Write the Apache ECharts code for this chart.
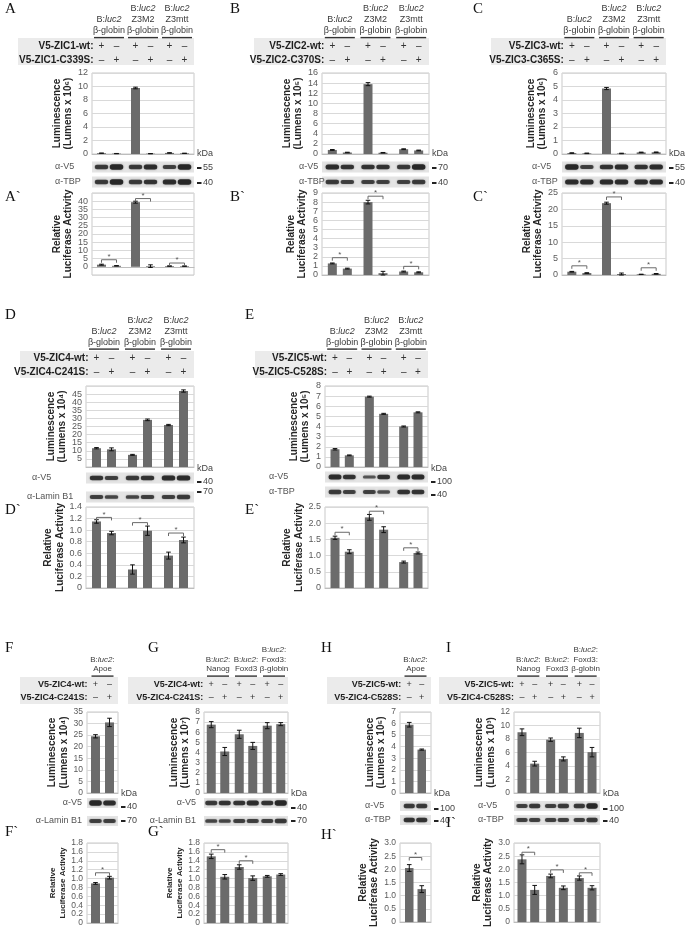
<!DOCTYPE html>
<html><head><meta charset="utf-8">
<script src="https://cdn.jsdelivr.net/npm/echarts@6/dist/echarts.min.js"></script>
<style>html,body{margin:0;padding:0;background:#fff}#c{width:685px;height:929px}</style>
</head><body><div id="c"></div>
<script>
// ================= DATA =================
const ABC_groups = ['B:luc2\nβ-globin', 'B:luc2\nZ3M2\nβ-globin', 'B:luc2\nZ3mtt\nβ-globin'];
const GI_groups = ['B:luc2:\nNanog', 'B:luc2:\nFoxd3', 'B:luc2:\nFoxd3:\nβ-globin'];
const FH_groups = ['B:luc2:\nApoe'];

// Panel A / A`
const A_rows = ['V5-ZIC1-wt:', 'V5-ZIC1-C339S:'];
const A_lum = [0.12, 0.06, 9.78, 0.05, 0.16, 0.1];
const A_lumErr = [0.02, 0.02, 0.12, 0.02, 0.03, 0.02];
const A_rel = [1.3, 0.6, 39.4, 0.4, 0.45, 0.4];
const A_relErr = [0.3, 0.15, 0.6, 0.8, 0.1, 0.1];
const A_sig = [4.3, 41.6, 2.3];
const A_lumTicks = [0, 12, 2];
const A_relTicks = [-5, 45, 5];
const A_unit = '(Lumens x 10⁶)';
const A_blotNames = ['α-V5', 'α-TBP'];
const A_kda = ['55', '40'];
const A_blotV5 = [0.7, 1, 0.7, 0.9, 0.6, 1];
const A_blotTBP = [0.7, 1, 0.7, 0.8, 0.9, 1];

// Panel B / B`
const B_rows = ['V5-ZIC2-wt:', 'V5-ZIC2-C370S:'];
const B_lum = [0.8, 0.3, 13.8, 0.25, 0.95, 0.7];
const B_lumErr = [0.08, 0.05, 0.3, 0.05, 0.08, 0.07];
const B_rel = [1.27, 0.7, 8.0, 0.2, 0.38, 0.3];
const B_relErr = [0.05, 0.05, 0.2, 0.2, 0.05, 0.05];
const B_sig = [1.9, 8.65, 0.95];
const B_lumTicks = [0, 16, 2];
const B_relTicks = [0, 9, 1];
const B_unit = '(Lumens x 10⁵)';
const B_blotNames = ['α-V5', 'α-TBP'];
const B_kda = ['70', '40'];
const B_blotV5 = [0.9, 0.8, 0.8, 0.8, 0.7, 1];
const B_blotTBP = [0.7, 0.6, 0.6, 0.6, 0.6, 0.7];

// Panel C / C`
const C_rows = ['V5-ZIC3-wt:', 'V5-ZIC3-C365S:'];
const C_lum = [0.07, 0.05, 4.85, 0.04, 0.12, 0.13];
const C_lumErr = [0.02, 0.02, 0.08, 0.02, 0.02, 0.02];
const C_rel = [1.0, 0.6, 21.9, 0.3, 0.2, 0.35];
const C_relErr = [0.1, 0.1, 0.3, 0.3, 0.05, 0.1];
const C_sig = [2.8, 23.8, 2.2];
const C_lumTicks = [0, 6, 1];
const C_relTicks = [0, 25, 5];
const C_unit = '(Lumens x 10⁶)';
const C_blotNames = ['α-V5', 'α-TBP'];
const C_kda = ['55', '40'];
const C_blotV5 = [1, 0.6, 0.8, 0.9, 0.8, 0.9];
const C_blotTBP = [0.9, 0.9, 0.9, 0.9, 0.9, 0.9];

// Panel D / D`
const D_rows = ['V5-ZIC4-wt:', 'V5-ZIC4-C241S:'];
const D_lum = [11.6, 10.9, 7.5, 29.1, 25.9, 46.9];
const D_lumErr = [0.4, 0.9, 0.3, 0.5, 0.4, 0.7];
const D_rel = [1.15, 0.95, 0.32, 0.99, 0.56, 0.83];
const D_relErr = [0.03, 0.03, 0.08, 0.08, 0.06, 0.05];
const D_sig = [1.22, 1.13, 0.95];
const D_lumTicks = [0, 50, 5];
const D_relTicks = [0, 1.4, 0.2];
const D_unit = '(Lumens x 10⁴)';
const D_blotNames = ['α-V5', 'α-Lamin B1'];
const D_kda = ['40', '70'];
const D_blotV5 = [0.8, 0.6, 0.7, 0.8, 0.9, 0.9];
const D_blotLamin = [0.6, 0.5, 0.5, 0.6, 0.6, 0.7];

// Panel E / E`
const E_rows = ['V5-ZIC5-wt:', 'V5-ZIC5-C528S:'];
const E_lum = [1.75, 1.15, 6.95, 5.25, 4.0, 5.4];
const E_lumErr = [0.07, 0.04, 0.05, 0.05, 0.05, 0.05];
const E_rel = [1.55, 1.12, 2.18, 1.8, 0.8, 1.08];
const E_relErr = [0.05, 0.06, 0.09, 0.09, 0.03, 0.03];
const E_sig = [1.72, 2.37, 1.24];
const E_lumTicks = [0, 8, 1];
const E_relTicks = [0, 2.5, 0.5];
const E_unit = '(Lumens x 10⁵)';
const E_blotNames = ['α-V5', 'α-TBP'];
const E_kda = ['100', '40'];
const E_blotV5 = [0.9, 0.8, 0.3, 0.8, 0.9, 0.9];
const E_blotTBP = [0.7, 0.6, 0.6, 0.4, 0.8, 0.8];

// Panel F / F`
const F_rows = ['V5-ZIC4-wt:', 'V5-ZIC4-C241S:'];
const F_lum = [24.5, 30.5];
const F_lumErr = [0.7, 1.8];
const F_rel = [0.89, 1.02];
const F_relErr = [0.02, 0.03];
const F_sig = [1.13];
const F_lumTicks = [0, 35, 5];
const F_relTicks = [0, 1.8, 0.2];
const F_unit = '(Lumens x 10⁴)';
const F_blotNames = ['α-V5', 'α-Lamin B1'];
const F_kda = ['40', '70'];
const F_blotV5 = [1, 0.9];
const F_blotLamin = [0.6, 0.6];

// Panel G / G`
const G_rows = ['V5-ZIC4-wt:', 'V5-ZIC4-C241S:'];
const G_lum = [6.75, 4.1, 5.8, 4.65, 6.65, 6.8];
const G_lumErr = [0.3, 0.4, 0.4, 0.35, 0.3, 0.15];
const G_rel = [1.5, 1.04, 1.26, 1.01, 1.05, 1.09];
const G_relErr = [0.05, 0.05, 0.05, 0.05, 0.02, 0.02];
const G_sig = [1.65, 1.4, null];
const G_lumTicks = [0, 8, 1];
const G_relTicks = [0, 1.8, 0.2];
const G_unit = '(Lumens x 10⁷)';
const G_blotNames = ['α-V5', 'α-Lamin B1'];
const G_kda = ['40', '70'];
const G_blotV5 = [0.7, 0.8, 0.8, 0.9, 0.8, 1];
const G_blotLamin = [0.5, 0.5, 0.6, 0.6, 0.6, 0.7];

// Panel H / H`
const H_rows = ['V5-ZIC5-wt:', 'V5-ZIC4-C528S:'];
const H_lum = [5.9, 3.75];
const H_lumErr = [0.2, 0.05];
const H_rel = [2.05, 1.25];
const H_relErr = [0.13, 0.13];
const H_sig = [2.45];
const H_lumTicks = [0, 7, 1];
const H_relTicks = [0, 3, 0.5];
const H_unit = '(Lumens x 10⁵)';
const H_blotNames = ['α-V5', 'α-TBP'];
const H_kda = ['100', '40'];
const H_blotV5 = [0.7, 0.7];
const H_blotTBP = [0.8, 0.8];

// Panel I / I`
const I_rows = ['V5-ZIC5-wt:', 'V5-ZIC4-C528S:'];
const I_lum = [9.0, 4.35, 7.9, 5.05, 8.9, 6.05];
const I_lumErr = [0.5, 0.35, 0.25, 0.3, 0.7, 0.7];
const I_rel = [2.38, 1.22, 1.75, 1.3, 1.67, 1.3];
const I_relErr = [0.17, 0.17, 0.07, 0.07, 0.08, 0.08];
const I_sig = [2.65, 1.98, 1.87];
const I_lumTicks = [0, 12, 2];
const I_relTicks = [0, 3, 0.5];
const I_unit = '(Lumens x 10³)';
const I_blotNames = ['α-V5', 'α-TBP'];
const I_kda = ['100', '40'];
const I_blotV5 = [0.6, 0.7, 0.6, 0.7, 0.7, 1];
const I_blotTBP = [0.6, 0.6, 0.6, 0.6, 0.6, 0.7];

// ================= LAYOUT =================
const big = {lumH:81, relH:82, bw:9, sp:15, blotH:11, hdrFs:9, hdrLh:11, rowFs:10, ulW:30, nameFs:10, relNameFs:10, nameGap:14, relNameGap:14, tickFs:9};
const small = {lumH:81, relH:80, bw:9, sp:13.5, blotH:10, hdrFs:8, hdrLh:9.5, rowFs:9, ulW:22, nameFs:10, relNameFs:8, nameGap:13, relNameGap:13, tickFs:8.5};
const top1 = {lumTop:73, relTop:193, blotY:[167,182], kdaY:154, kdaMarks:[168,183], boxY:38, rowY:[46,60], hdrBottom:36, ulY:37.5};
const top2 = {lumTop:386, relTop:507, kdaY:469, boxY:351, rowY:[358,372], hdrBottom:348, ulY:349};
const top3 = {lumTop:712, relTop:843, kdaY:794, boxY:677, rowY:[685,698], hdrBottom:674, ulY:676};

const P = [
 {n:'A', groups:ABC_groups, rows:A_rows, lum:A_lum, lumErr:A_lumErr, rel:A_rel, relErr:A_relErr, sig:A_sig, lumAx:A_lumTicks, relAx:A_relTicks, unit:A_unit, blots:[A_blotV5, A_blotTBP], blotNames:A_blotNames, kda:A_kda,
  L:Object.assign({}, big, top1, {left:92, w:102, blotLbl:[[55,'left'],[55,'left']], boxX:18, letter:[5,2], letter2:[5,190]})},
 {n:'B', groups:ABC_groups, rows:B_rows, lum:B_lum, lumErr:B_lumErr, rel:B_rel, relErr:B_relErr, sig:B_sig, lumAx:B_lumTicks, relAx:B_relTicks, unit:B_unit, blots:[B_blotV5, B_blotTBP], blotNames:B_blotNames, kda:B_kda,
  L:Object.assign({}, big, top1, {left:322, w:107, blotLbl:[[299,'left'],[299,'left']], boxX:254, letter:[230,2], letter2:[230,190]})},
 {n:'C', groups:ABC_groups, rows:C_rows, lum:C_lum, lumErr:C_lumErr, rel:C_rel, relErr:C_relErr, sig:C_sig, lumAx:C_lumTicks, relAx:C_relTicks, unit:C_unit, blots:[C_blotV5, C_blotTBP], blotNames:C_blotNames, kda:C_kda,
  L:Object.assign({}, big, top1, {left:562, w:104, blotLbl:[[532,'left'],[532,'left']], boxX:491, letter:[473,2], letter2:[473,190]})},
 {n:'D', groups:ABC_groups, rows:D_rows, lum:D_lum, lumErr:D_lumErr, rel:D_rel, relErr:D_relErr, sig:D_sig, lumAx:D_lumTicks, relAx:D_relTicks, unit:D_unit, blots:[D_blotV5, D_blotLamin], blotNames:D_blotNames, kda:D_kda,
  L:Object.assign({}, big, top2, {left:86, w:108, relH:81, blotY:[478,497], kdaMarks:[482,492], blotLbl:[[32,'left'],[27,'left']], boxX:20, letter:[5,308], letter2:[5,503]})},
 {n:'E', groups:ABC_groups, rows:E_rows, lum:E_lum, lumErr:E_lumErr, rel:E_rel, relErr:E_relErr, sig:E_sig, lumAx:E_lumTicks, relAx:E_relTicks, unit:E_unit, blots:[E_blotV5, E_blotTBP], blotNames:E_blotNames, kda:E_kda,
  L:Object.assign({}, big, top2, {left:325, w:103, relH:81, sp:14.3, blotY:[477,492], kdaMarks:[482,495], blotLbl:[[269,'left'],[269,'left']], boxX:255, letter:[245,308], letter2:[245,503]})},
 {n:'F', groups:FH_groups, rows:F_rows, lum:F_lum, lumErr:F_lumErr, rel:F_rel, relErr:F_relErr, sig:F_sig, lumAx:F_lumTicks, relAx:F_relTicks, unit:F_unit, blots:[F_blotV5, F_blotLamin], blotNames:F_blotNames, kda:F_kda,
  L:Object.assign({}, small, top3, {left:87, w:31, sp:14, blotY:[803,821], kdaMarks:[807,821], blotLbl:[[82,'right'],[82,'right']], boxX:20, letter:[5,641], letter2:[5,825]})},
 {n:'G', groups:GI_groups, rows:G_rows, lum:G_lum, lumErr:G_lumErr, rel:G_rel, relErr:G_relErr, sig:G_sig, lumAx:G_lumTicks, relAx:G_relTicks, unit:G_unit, blots:[G_blotV5, G_blotLamin], blotNames:G_blotNames, kda:G_kda,
  L:Object.assign({}, small, top3, {left:204, w:84, blotY:[803,821], kdaMarks:[808,821], blotLbl:[[196,'right'],[196,'right']], boxX:128, letter:[148,641], letter2:[148,825]})},
 {n:'H', groups:FH_groups, rows:H_rows, lum:H_lum, lumErr:H_lumErr, rel:H_rel, relErr:H_relErr, sig:H_sig, lumAx:H_lumTicks, relAx:H_relTicks, unit:H_unit, blots:[H_blotV5, H_blotTBP], blotNames:H_blotNames, kda:H_kda,
  L:Object.assign({}, small, top3, {left:400, w:31, bw:8.5, sp:12.5, relNameFs:10, blotY:[806,820], kdaMarks:[809,821], blotLbl:[[365,'left'],[365,'left']], boxX:327, letter:[321,641], letter2:[321,828]})},
 {n:'I', groups:GI_groups, rows:I_rows, lum:I_lum, lumErr:I_lumErr, rel:I_rel, relErr:I_relErr, sig:I_sig, lumAx:I_lumTicks, relAx:I_relTicks, unit:I_unit, blots:[I_blotV5, I_blotTBP], blotNames:I_blotNames, kda:I_kda,
  L:Object.assign({}, small, top3, {left:514, w:86, sp:12.7, relNameFs:10, blotY:[806,820], kdaMarks:[809,821], blotLbl:[[478,'left'],[478,'left']], boxX:439, letter:[446,641], letter2:[446,816]})}
];

// ================= BUILD =================
const FONT = "'Liberation Sans', Arial, Helvetica, sans-serif";
const SERIF = "'Liberation Serif', 'Times New Roman', serif";
const BAR = '#6b6b6b';
const grids = [], xAxes = [], yAxes = [], series = [], gfx = [];

function laneX(p, i) {
  const n = p.groups.length, L = p.L;
  return L.left + L.w * (Math.floor(i / 2) + 0.5) / n + (i % 2 ? 1 : -1) * L.sp / 2;
}
function fmtTick(ax) {
  const dec = ax[2] < 1;
  return v => (Math.abs(v) < 1e-9 ? '0' : (dec ? v.toFixed(1) : String(Math.round(v))));
}

function addChart(p, kind) {
  const L = p.L;
  const gi = grids.length;
  const top = kind === 'lum' ? L.lumTop : L.relTop;
  const h = kind === 'lum' ? L.lumH : L.relH;
  const ax = kind === 'lum' ? p.lumAx : p.relAx;
  const vals = kind === 'lum' ? p.lum : p.rel;
  const errs = kind === 'lum' ? p.lumErr : p.relErr;
  grids.push({left: L.left, top: top, width: L.w, height: h, show: true, borderColor: '#c9c9c9', borderWidth: 1, backgroundColor: '#fff'});
  xAxes.push({gridIndex: gi, type: 'category', data: p.groups.map((g, i) => i),
    axisLabel: {show: false}, axisTick: {show: false},
    axisLine: {show: true, onZero: true, lineStyle: {color: '#bdbdbd', width: 1}}, splitLine: {show: false}});
  const nm = kind === 'lum' ? 'Luminescence\n' + p.unit : 'Relative\nLuciferase Activity';
  const fs = kind === 'lum' ? L.nameFs : L.relNameFs;
  yAxes.push({gridIndex: gi, type: 'value', min: ax[0], max: ax[1], interval: ax[2],
    axisLine: {show: false}, axisTick: {show: false},
    splitLine: {show: true, lineStyle: {color: '#d9d9d9', width: 1}},
    axisLabel: {fontSize: L.tickFs, color: '#5a5a5a', fontFamily: FONT, margin: 4, formatter: fmtTick(ax)},
    name: nm, nameLocation: 'middle', nameRotate: 90,
    nameGap: kind === 'lum' ? L.nameGap : L.relNameGap,
    nameTextStyle: {fontSize: fs, fontWeight: 'bold', fontFamily: FONT, color: '#262626', lineHeight: fs + 1.5}});
  const wt = [], mu = [];
  vals.forEach((v, i) => (i % 2 ? mu : wt).push(v));
  const gap = ((L.sp - L.bw) / L.bw * 100) + '%';
  [wt, mu].forEach(d => series.push({type: 'bar', xAxisIndex: gi, yAxisIndex: gi, data: d, barWidth: L.bw, barGap: gap,
    itemStyle: {color: BAR}, silent: true, animation: false}));
  series.push({type: 'custom', xAxisIndex: gi, yAxisIndex: gi, silent: true, z: 5, animation: false,
    data: vals.map((v, i) => [Math.floor(i / 2), v, errs[i], i % 2]),
    encode: {x: 0, y: 1},
    renderItem: (params, api) => {
      const cat = api.value(0), v = api.value(1), e = api.value(2), s = api.value(3);
      const c = api.coord([cat, v]);
      const x = c[0] + (s ? 1 : -1) * L.sp / 2;
      const yt = api.coord([cat, v + e])[1], yb = api.coord([cat, v - e])[1];
      const cw = 2.3, st = {stroke: '#111', lineWidth: 1};
      return {type: 'group', children: [
        {type: 'line', shape: {x1: x, y1: yt, x2: x, y2: yb}, style: st},
        {type: 'line', shape: {x1: x - cw, y1: yt, x2: x + cw, y2: yt}, style: st},
        {type: 'line', shape: {x1: x - cw, y1: yb, x2: x + cw, y2: yb}, style: st}]};
    }});
  if (kind === 'rel') {
    series.push({type: 'custom', xAxisIndex: gi, yAxisIndex: gi, silent: true, z: 6, animation: false,
      data: p.sig.map((y, g) => [g, y]).filter(d => d[1] != null),
      encode: {x: 0, y: 1},
      renderItem: (params, api) => {
        const c = api.coord([api.value(0), api.value(1)]);
        const x1 = c[0] - L.sp / 2, x2 = c[0] + L.sp / 2, y = c[1];
        const st = {stroke: '#6a6a6a', lineWidth: 1};
        return {type: 'group', children: [
          {type: 'line', shape: {x1: x1, y1: y, x2: x2, y2: y}, style: st},
          {type: 'line', shape: {x1: x1, y1: y, x2: x1, y2: y + 3}, style: st},
          {type: 'line', shape: {x1: x2, y1: y, x2: x2, y2: y + 3}, style: st},
          {type: 'text', style: {text: '*', x: c[0], y: y + 1, align: 'center', verticalAlign: 'bottom', fontSize: 8, fontFamily: FONT, fill: '#555'}}]};
      }});
  }
}

function addBlot(p, r) {
  const L = p.L;
  const gi = grids.length;
  const yc = L.blotY[r];
  grids.push({left: L.left, top: yc - L.blotH / 2, width: L.w, height: L.blotH, show: true, backgroundColor: '#e4e4e4', borderWidth: 0});
  xAxes.push({gridIndex: gi, type: 'category', data: p.groups.map((g, i) => i), show: false});
  yAxes.push({gridIndex: gi, type: 'value', min: 0, max: 1, show: false});
  series.push({type: 'custom', xAxisIndex: gi, yAxisIndex: gi, silent: true, animation: false,
    data: p.blots[r].map((t, i) => [Math.floor(i / 2), 0.5, t, i % 2]),
    encode: {x: 0, y: 1},
    renderItem: (params, api) => {
      const c = api.coord([api.value(0), 0.5]);
      const t = api.value(2), s = api.value(3);
      const x = c[0] + (s ? 1 : -1) * L.sp / 2;
      const w = L.sp * 0.9, h = 2 + 3.4 * t;
      return {type: 'rect', shape: {x: x - w / 2, y: c[1] - h / 2, width: w, height: h, r: h / 2},
        style: {fill: 'rgba(30,30,30,' + (0.5 + 0.42 * t) + ')', shadowBlur: 2, shadowColor: 'rgba(0,0,0,0.45)'}};
    }});
  const bl = L.blotLbl[r];
  gfx.push({type: 'text', x: bl[0], y: yc, z: 10, style: {text: p.blotNames[r], align: bl[1], verticalAlign: 'middle', fontSize: 9, fontFamily: FONT, fill: '#555'}});
  const xr = L.left + L.w;
  gfx.push({type: 'rect', x: xr + 3, y: L.kdaMarks[r] - 1, z: 10, shape: {x: 0, y: 0, width: 4.5, height: 2}, style: {fill: '#222'}});
  gfx.push({type: 'text', x: xr + 9, y: L.kdaMarks[r], z: 10, style: {text: p.kda[r], align: 'left', verticalAlign: 'middle', fontSize: 9, fontFamily: FONT, fill: '#444'}});
}

function addDecor(p) {
  const L = p.L, n = p.groups.length;
  const xr = L.left + L.w;
  gfx.push({type: 'text', x: L.letter[0], y: L.letter[1], z: 10, style: {text: p.n, fontSize: 15, fontFamily: SERIF, fill: '#111', align: 'left', verticalAlign: 'top'}});
  gfx.push({type: 'text', x: L.letter2[0], y: L.letter2[1], z: 10, style: {text: p.n + '`', fontSize: 15, fontFamily: SERIF, fill: '#111', align: 'left', verticalAlign: 'top'}});
  gfx.push({type: 'rect', x: L.boxX, y: L.boxY, z: 1, shape: {x: 0, y: 0, width: xr - L.boxX, height: 27}, style: {fill: '#ebebeb'}});
  p.groups.forEach((g, k) => {
    const cx = (laneX(p, 2 * k) + laneX(p, 2 * k + 1)) / 2;
    gfx.push({type: 'text', x: cx, y: L.hdrBottom, z: 10, style: {
      text: g.replace(/luc2/g, '{i|luc2}'), align: 'center', verticalAlign: 'bottom',
      fontSize: L.hdrFs, fontFamily: FONT, fill: '#3a3a3a', lineHeight: L.hdrLh,
      rich: {i: {fontStyle: 'italic', fontSize: L.hdrFs, fontFamily: FONT, fill: '#3a3a3a', lineHeight: L.hdrLh}}}});
    gfx.push({type: 'rect', x: cx - L.ulW / 2, y: L.ulY - 0.6, z: 10, shape: {x: 0, y: 0, width: L.ulW, height: 1.4}, style: {fill: '#333'}});
  });
  const x0 = laneX(p, 0);
  p.rows.forEach((r, ri) => {
    gfx.push({type: 'text', x: x0 - 8, y: L.rowY[ri], z: 10, style: {text: r, align: 'right', verticalAlign: 'middle', fontSize: L.rowFs, fontWeight: 'bold', fontFamily: FONT, fill: '#1e1e1e'}});
    for (let i = 0; i < 2 * n; i++) {
      const plus = (i % 2 === ri);
      gfx.push({type: 'text', x: laneX(p, i), y: L.rowY[ri], z: 10, style: {text: plus ? '+' : '–', align: 'center', verticalAlign: 'middle', fontSize: L.rowFs, fontFamily: FONT, fill: '#333'}});
    }
  });
  gfx.push({type: 'text', x: xr + 3, y: L.kdaY, z: 10, style: {text: 'kDa', align: 'left', verticalAlign: 'middle', fontSize: 9, fontFamily: FONT, fill: '#444'}});
}

P.forEach(p => {
  addChart(p, 'lum');
  addChart(p, 'rel');
  addBlot(p, 0);
  addBlot(p, 1);
  addDecor(p);
});

const chart = echarts.init(document.getElementById('c'), null, {renderer: 'canvas'});
chart.setOption({
  backgroundColor: '#fff',
  animation: false,
  grid: grids, xAxis: xAxes, yAxis: yAxes, series: series,
  graphic: {elements: gfx}
});
</script></body></html>
